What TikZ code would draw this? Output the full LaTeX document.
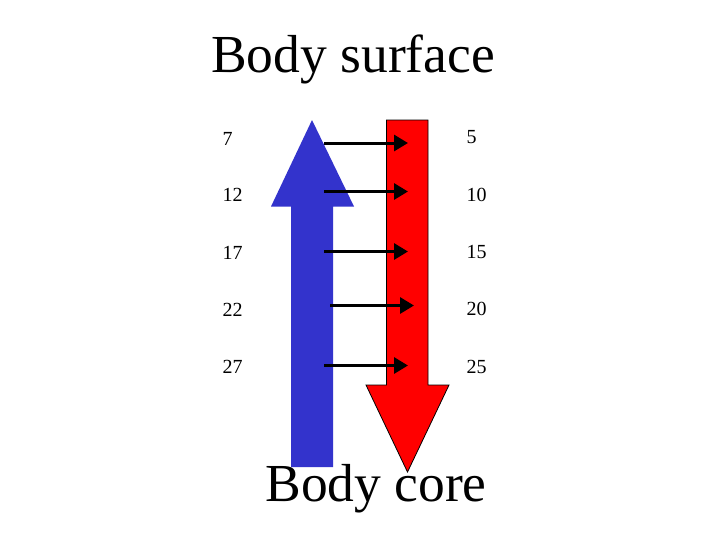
\documentclass[tikz,border=0pt]{standalone}
\usepackage{fontspec}
\setmainfont{Liberation Serif}
\usetikzlibrary{arrows.meta}
\definecolor{coolblue}{HTML}{3333CC}
\tikzset{
    flux/.style={-{Triangle[length=14pt,width=16pt]}, line width=3pt},
    numlabel/.style={anchor=base west, inner sep=0pt, font=\fontsize{20}{24}\selectfont},
    bigtitle/.style={anchor=base, inner sep=0pt, font=\fontsize{53.5}{60}\selectfont},
}

\begin{document}
\begin{tikzpicture}[x=1pt, y=-1pt]
    \useasboundingbox (0,0) rectangle (719,539);

    % Big arrows
    \fill[coolblue] (291,467) -- (291,206.5) -- (271,206.5) -- (312,120)
        -- (354,206.5) -- (333,206.5) -- (333,467) -- cycle;
    \filldraw[fill=red, draw=black, line width=0.8pt] (386.5,120) -- (428,120)
        -- (428,385) -- (449,385) -- (407.5,472) -- (366,385) -- (386.5,385) -- cycle;

    % Titles
    \node[bigtitle] (surface) at (353,72) {Body surface};
    \node[bigtitle] (core) at (376,501) {Body core};

    % Temperatures
    \foreach \lab/\y [count=\i] in {7/145, 12/201.5, 17/259, 22/316, 27/373}
        \node[numlabel] (cold\i) at (222.5,\y) {\lab};
    \foreach \lab/\y [count=\i] in {5/143.5, 10/201, 15/258, 20/315.5, 25/373}
        \node[numlabel] (warm\i) at (466.5,\y) {\lab};

    % Heat exchange
    \foreach \y/\xa [count=\i] in {143/324, 191.5/324, 251.5/324, 305.5/330, 365.5/324} {
        \coordinate (src\i) at (\xa,\y);
        \coordinate (dst\i) at (\xa+84,\y);
        \draw[flux] (src\i) -- (dst\i);
    }
\end{tikzpicture}
\end{document}
